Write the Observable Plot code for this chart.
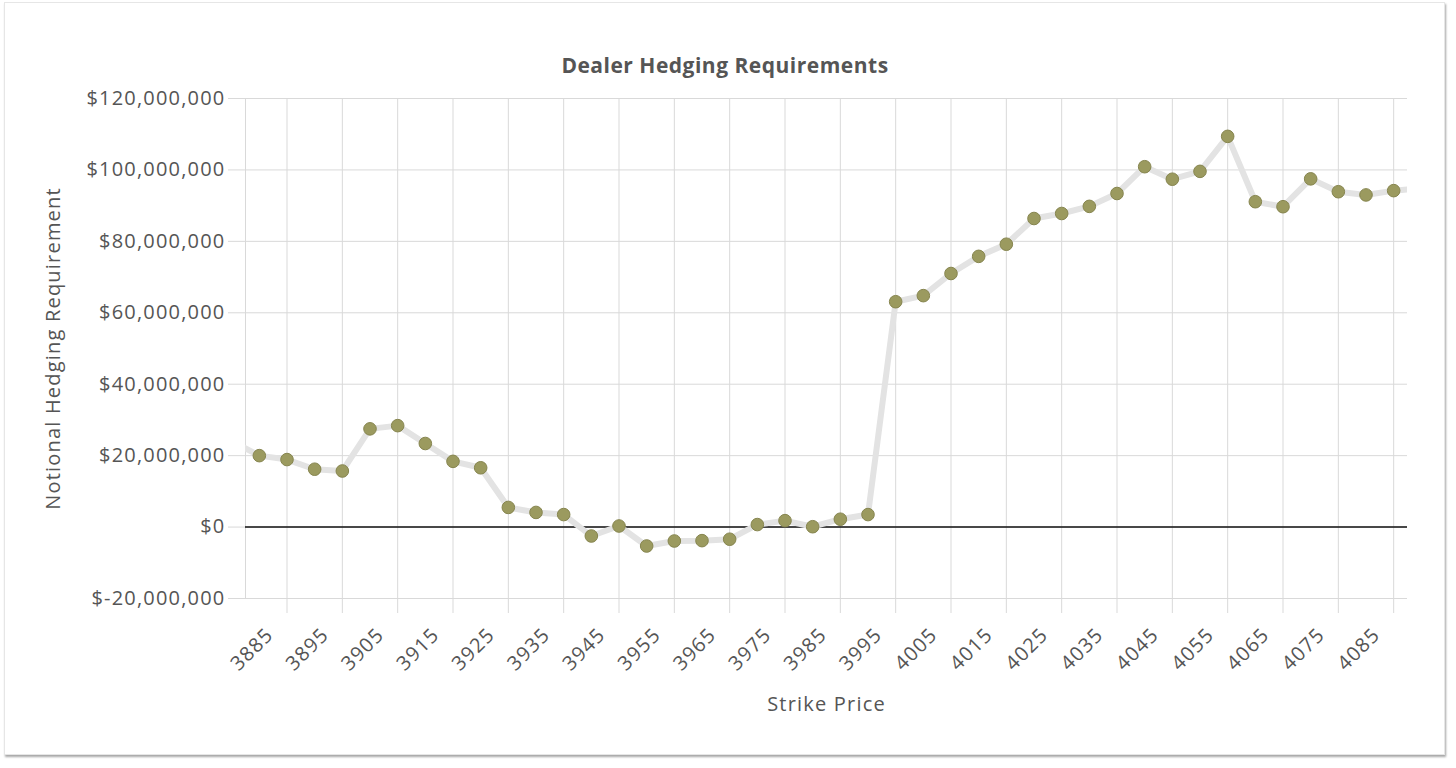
<!DOCTYPE html>
<html><head><meta charset="utf-8">
<script src="https://cdn.jsdelivr.net/npm/d3@7"></script>
<script src="https://cdn.jsdelivr.net/npm/@observablehq/plot@0.6"></script>
<style>
html,body{margin:0;padding:0;background:#fff;}
#wrap{position:relative;width:1456px;height:768px;overflow:hidden;background:#fff;}
#card{position:absolute;left:4px;top:2px;width:1439px;height:751px;border:1px solid #e6e6e6;box-shadow:1px 2px 2px rgba(0,0,0,0.35);background:#fff;}
#title{position:absolute;left:0;width:1450px;top:51px;text-align:center;font-family:"Open Sans",sans-serif;font-weight:700;font-size:21px;letter-spacing:0.5px;color:#555;}
#chart{position:absolute;left:0;top:0;}
</style></head>
<body>
<div id="wrap"><div id="card"></div><div id="title">Dealer Hedging Requirements</div><div id="chart"></div></div>
<script>
// Strike prices (the first and last fall just outside the visible frame)
const strikes = [3875,3880,3885,3890,3895,3900,3905,3910,3915,3920,3925,3930,3935,3940,3945,3950,3955,3960,3965,3970,3975,3980,3985,3990,3995,4000,4005,4010,4015,4020,4025,4030,4035,4040,4045,4050,4055,4060,4065,4070,4075,4080,4085,4090];
// Notional hedging requirement, millions of dollars
const hedgeMillions = [24.0,20.0,18.9,16.2,15.7,27.5,28.4,23.4,18.4,16.6,5.5,4.1,3.5,-2.5,0.3,-5.3,-3.9,-3.8,-3.4,0.7,1.8,0.1,2.2,3.5,63.1,64.8,71.0,75.8,79.2,86.4,87.8,89.8,93.4,100.9,97.4,99.6,109.4,91.1,89.7,97.5,93.9,93.0,94.2,94.8];
const xTicks = [3885,3895,3905,3915,3925,3935,3945,3955,3965,3975,3985,3995,4005,4015,4025,4035,4045,4055,4065,4075,4085];
const yTicks = [-20000000,0,20000000,40000000,60000000,80000000,100000000,120000000];
const xDomain = [3877.5, 4087.5];

const data = strikes.map((s, i) => ({strike: s, value: hedgeMillions[i] * 1e6}));
const fmt = v => "$" + d3.format(",")(v).replace("\u2212", "-");

const chart = Plot.plot({
  width: 1456, height: 768,
  marginLeft: 245, marginRight: 49, marginTop: 98, marginBottom: 170,
  style: {fontFamily: "Open Sans, sans-serif", fontSize: "20px", color: "#555", background: "transparent", letterSpacing: "1.2px"},
  x: {domain: xDomain},
  y: {domain: [-20000000, 120000000]},
  marks: [
    Plot.gridY(yTicks, {stroke: "#d9d9d9", strokeOpacity: 1}),
    Plot.gridX(xTicks, {stroke: "#d9d9d9", strokeOpacity: 1}),
    Plot.ruleX([xDomain[0]], {stroke: "#d9d9d9"}),
    Plot.axisY(yTicks, {tickFormat: fmt, tickSize: 17, tickPadding: 3, stroke: "#d9d9d9", strokeOpacity: 1, fill: "#555",
      label: "Notional Hedging Requirement", labelAnchor: "center", labelArrow: "none", labelOffset: 200}),
    Plot.axisX(xTicks, {tickFormat: () => "", tickSize: 15, stroke: "#d9d9d9", strokeOpacity: 1, label: null}),
    Plot.axisX(xTicks, {tickFormat: d => String(d), tickSize: 0, tickRotate: -45, tickPadding: 33, dx: -17, fill: "#555",
      label: "Strike Price", labelAnchor: "center", labelArrow: "none", labelOffset: 112}),
    Plot.ruleY([0], {stroke: "#111", strokeWidth: 1.5}),
    Plot.line(data, {x: "strike", y: "value", stroke: "#e3e3e3", strokeWidth: 6, clip: true}),
    Plot.dot(data, {x: "strike", y: "value", r: 6.3, fill: "#9b9a5f", stroke: "#86854f", strokeWidth: 1, clip: true})
  ]
});
document.getElementById("chart").appendChild(chart);
</script>
</body></html>
